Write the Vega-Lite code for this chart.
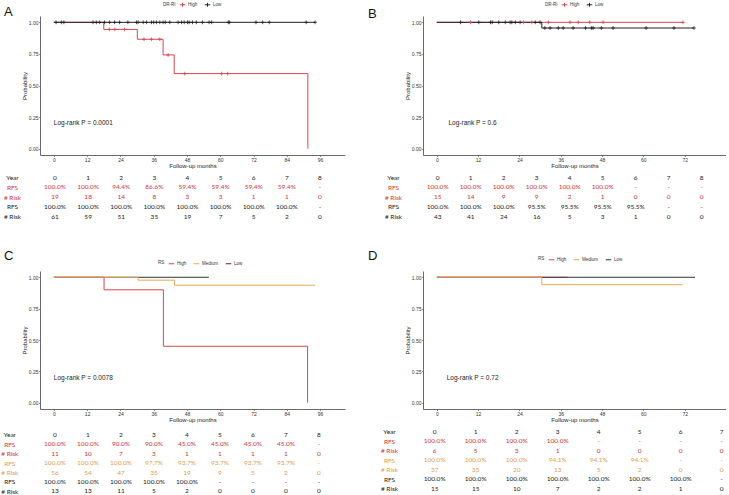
{
  "$schema": "https://vega.github.io/schema/vega-lite/v6.json",
  "padding": {"left": 0, "top": 1, "right": 0, "bottom": 0},
  "background": "white",
  "columns": 2,
  "spacing": {"row": 10, "column": 78},
  "bounds": "flush",
  "resolve": {"scale": {"color": "independent", "x": "independent", "y": "independent"}, "legend": {"color": "independent"}},
  "datasets": {
    "curveA": [
      {"g": "High", "m": 0, "s": 1}, {"g": "High", "m": 18, "s": 0.944}, {"g": "High", "m": 30.1, "s": 0.866}, {"g": "High", "m": 39.4, "s": 0.742}, {"g": "High", "m": 43.4, "s": 0.594}, {"g": "High", "m": 91.6, "s": 0},
      {"g": "Low", "m": 0, "s": 1}, {"g": "Low", "m": 94.2, "s": 1}
    ],
    "censA": [
      {"g": "High", "m": 20, "s": 0.944}, {"g": "High", "m": 22, "s": 0.944}, {"g": "High", "m": 25.5, "s": 0.944},
      {"g": "High", "m": 32.5, "s": 0.866}, {"g": "High", "m": 35.2, "s": 0.866}, {"g": "High", "m": 38.2, "s": 0.866},
      {"g": "High", "m": 41.2, "s": 0.742},
      {"g": "High", "m": 47.2, "s": 0.594}, {"g": "High", "m": 60.5, "s": 0.594}, {"g": "High", "m": 62.7, "s": 0.594},
      {"g": "Low", "m": 0.8, "s": 1}, {"g": "Low", "m": 2.7, "s": 1}, {"g": "Low", "m": 3.6, "s": 1}, {"g": "Low", "m": 14.1, "s": 1}, {"g": "Low", "m": 15.3, "s": 1}, {"g": "Low", "m": 16.5, "s": 1}, {"g": "Low", "m": 18.3, "s": 1}, {"g": "Low", "m": 20.1, "s": 1}, {"g": "Low", "m": 21.9, "s": 1}, {"g": "Low", "m": 23.7, "s": 1}, {"g": "Low", "m": 26.7, "s": 1}, {"g": "Low", "m": 29.8, "s": 1}, {"g": "Low", "m": 30.4, "s": 1}, {"g": "Low", "m": 32.2, "s": 1}, {"g": "Low", "m": 33.4, "s": 1}, {"g": "Low", "m": 35.2, "s": 1}, {"g": "Low", "m": 36, "s": 1}, {"g": "Low", "m": 37, "s": 1}, {"g": "Low", "m": 38.2, "s": 1}, {"g": "Low", "m": 39.4, "s": 1}, {"g": "Low", "m": 40.2, "s": 1}, {"g": "Low", "m": 41.8, "s": 1}, {"g": "Low", "m": 44.8, "s": 1}, {"g": "Low", "m": 46, "s": 1}, {"g": "Low", "m": 47, "s": 1}, {"g": "Low", "m": 48.2, "s": 1}, {"g": "Low", "m": 48.8, "s": 1}, {"g": "Low", "m": 50, "s": 1}, {"g": "Low", "m": 51.4, "s": 1}, {"g": "Low", "m": 53.6, "s": 1}, {"g": "Low", "m": 56, "s": 1}, {"g": "Low", "m": 56.9, "s": 1}, {"g": "Low", "m": 62.9, "s": 1}, {"g": "Low", "m": 63.3, "s": 1}, {"g": "Low", "m": 72.9, "s": 1}, {"g": "Low", "m": 75.3, "s": 1}, {"g": "Low", "m": 77.7, "s": 1}, {"g": "Low", "m": 91, "s": 1}, {"g": "Low", "m": 94.2, "s": 1}
    ],
    "curveB": [
      {"g": "High", "m": 0, "s": 1}, {"g": "High", "m": 71.5, "s": 1},
      {"g": "Low", "m": 0, "s": 1}, {"g": "Low", "m": 30.5, "s": 0.955}, {"g": "Low", "m": 74.7, "s": 0.955}
    ],
    "censB": [
      {"g": "High", "m": 9.8, "s": 1}, {"g": "High", "m": 25.2, "s": 1}, {"g": "High", "m": 27.6, "s": 1}, {"g": "High", "m": 32.4, "s": 1}, {"g": "High", "m": 38.7, "s": 1}, {"g": "High", "m": 41.1, "s": 1}, {"g": "High", "m": 44.4, "s": 1}, {"g": "High", "m": 48.3, "s": 1}, {"g": "High", "m": 71.5, "s": 1},
      {"g": "Low", "m": 6.9, "s": 1}, {"g": "Low", "m": 12.2, "s": 1}, {"g": "Low", "m": 15.6, "s": 1}, {"g": "Low", "m": 16.1, "s": 1}, {"g": "Low", "m": 18, "s": 1}, {"g": "Low", "m": 19.9, "s": 1}, {"g": "Low", "m": 21.3, "s": 1}, {"g": "Low", "m": 21.8, "s": 1}, {"g": "Low", "m": 22.8, "s": 1}, {"g": "Low", "m": 24.2, "s": 1}, {"g": "Low", "m": 28.6, "s": 1}, {"g": "Low", "m": 30, "s": 1},
      {"g": "Low", "m": 31.4, "s": 0.955}, {"g": "Low", "m": 32.9, "s": 0.955}, {"g": "Low", "m": 35.3, "s": 0.955}, {"g": "Low", "m": 36.7, "s": 0.955}, {"g": "Low", "m": 39.6, "s": 0.955}, {"g": "Low", "m": 43.2, "s": 0.955}, {"g": "Low", "m": 44.9, "s": 0.955}, {"g": "Low", "m": 45.4, "s": 0.955}, {"g": "Low", "m": 47.8, "s": 0.955}, {"g": "Low", "m": 51.2, "s": 0.955}, {"g": "Low", "m": 60.8, "s": 0.955}, {"g": "Low", "m": 68.9, "s": 0.955}, {"g": "Low", "m": 74.7, "s": 0.955}
    ],
    "curveC": [
      {"g": "High", "m": 0, "s": 1}, {"g": "High", "m": 18.1, "s": 0.9}, {"g": "High", "m": 39.5, "s": 0.45}, {"g": "High", "m": 91.5, "s": 0},
      {"g": "Low", "m": 0, "s": 1}, {"g": "Low", "m": 55.9, "s": 1},
      {"g": "Medium", "m": 0, "s": 1}, {"g": "Medium", "m": 30.4, "s": 0.977}, {"g": "Medium", "m": 43.5, "s": 0.937}, {"g": "Medium", "m": 94.2, "s": 0.937}
    ],
    "curveD": [
      {"g": "High", "m": 0, "s": 1}, {"g": "High", "m": 38, "s": 1},
      {"g": "Low", "m": 0, "s": 1}, {"g": "Low", "m": 75, "s": 1},
      {"g": "Medium", "m": 0, "s": 1}, {"g": "Medium", "m": 30.5, "s": 0.941}, {"g": "Medium", "m": 71.4, "s": 0.941}
    ],
    "tabA": [
      {"r": 0, "yr": 0, "t": "0", "g": "K"}, {"r": 0, "yr": 1, "t": "1", "g": "K"}, {"r": 0, "yr": 2, "t": "2", "g": "K"}, {"r": 0, "yr": 3, "t": "3", "g": "K"}, {"r": 0, "yr": 4, "t": "4", "g": "K"}, {"r": 0, "yr": 5, "t": "5", "g": "K"}, {"r": 0, "yr": 6, "t": "6", "g": "K"}, {"r": 0, "yr": 7, "t": "7", "g": "K"}, {"r": 0, "yr": 8, "t": "8", "g": "K"},
      {"r": 1, "yr": 0, "t": "100.0%", "g": "H"}, {"r": 1, "yr": 1, "t": "100.0%", "g": "H"}, {"r": 1, "yr": 2, "t": "94.4%", "g": "H"}, {"r": 1, "yr": 3, "t": "86.6%", "g": "H"}, {"r": 1, "yr": 4, "t": "59.4%", "g": "H"}, {"r": 1, "yr": 5, "t": "59.4%", "g": "H"}, {"r": 1, "yr": 6, "t": "59.4%", "g": "H"}, {"r": 1, "yr": 7, "t": "59.4%", "g": "H"}, {"r": 1, "yr": 8, "t": "-", "g": "H"},
      {"r": 2, "yr": 0, "t": "19", "g": "H"}, {"r": 2, "yr": 1, "t": "18", "g": "H"}, {"r": 2, "yr": 2, "t": "14", "g": "H"}, {"r": 2, "yr": 3, "t": "8", "g": "H"}, {"r": 2, "yr": 4, "t": "3", "g": "H"}, {"r": 2, "yr": 5, "t": "3", "g": "H"}, {"r": 2, "yr": 6, "t": "1", "g": "H"}, {"r": 2, "yr": 7, "t": "1", "g": "H"}, {"r": 2, "yr": 8, "t": "0", "g": "H"},
      {"r": 3, "yr": 0, "t": "100.0%", "g": "K"}, {"r": 3, "yr": 1, "t": "100.0%", "g": "K"}, {"r": 3, "yr": 2, "t": "100.0%", "g": "K"}, {"r": 3, "yr": 3, "t": "100.0%", "g": "K"}, {"r": 3, "yr": 4, "t": "100.0%", "g": "K"}, {"r": 3, "yr": 5, "t": "100.0%", "g": "K"}, {"r": 3, "yr": 6, "t": "100.0%", "g": "K"}, {"r": 3, "yr": 7, "t": "100.0%", "g": "K"}, {"r": 3, "yr": 8, "t": "-", "g": "K"},
      {"r": 4, "yr": 0, "t": "61", "g": "K"}, {"r": 4, "yr": 1, "t": "59", "g": "K"}, {"r": 4, "yr": 2, "t": "51", "g": "K"}, {"r": 4, "yr": 3, "t": "35", "g": "K"}, {"r": 4, "yr": 4, "t": "19", "g": "K"}, {"r": 4, "yr": 5, "t": "7", "g": "K"}, {"r": 4, "yr": 6, "t": "5", "g": "K"}, {"r": 4, "yr": 7, "t": "2", "g": "K"}, {"r": 4, "yr": 8, "t": "0", "g": "K"}
    ],
    "tabB": [
      {"r": 0, "yr": 0, "t": "0", "g": "K"}, {"r": 0, "yr": 1, "t": "1", "g": "K"}, {"r": 0, "yr": 2, "t": "2", "g": "K"}, {"r": 0, "yr": 3, "t": "3", "g": "K"}, {"r": 0, "yr": 4, "t": "4", "g": "K"}, {"r": 0, "yr": 5, "t": "5", "g": "K"}, {"r": 0, "yr": 6, "t": "6", "g": "K"}, {"r": 0, "yr": 7, "t": "7", "g": "K"}, {"r": 0, "yr": 8, "t": "8", "g": "K"},
      {"r": 1, "yr": 0, "t": "100.0%", "g": "H"}, {"r": 1, "yr": 1, "t": "100.0%", "g": "H"}, {"r": 1, "yr": 2, "t": "100.0%", "g": "H"}, {"r": 1, "yr": 3, "t": "100.0%", "g": "H"}, {"r": 1, "yr": 4, "t": "100.0%", "g": "H"}, {"r": 1, "yr": 5, "t": "100.0%", "g": "H"}, {"r": 1, "yr": 6, "t": "-", "g": "H"}, {"r": 1, "yr": 7, "t": "-", "g": "H"}, {"r": 1, "yr": 8, "t": "-", "g": "H"},
      {"r": 2, "yr": 0, "t": "15", "g": "H"}, {"r": 2, "yr": 1, "t": "14", "g": "H"}, {"r": 2, "yr": 2, "t": "9", "g": "H"}, {"r": 2, "yr": 3, "t": "9", "g": "H"}, {"r": 2, "yr": 4, "t": "2", "g": "H"}, {"r": 2, "yr": 5, "t": "1", "g": "H"}, {"r": 2, "yr": 6, "t": "0", "g": "H"}, {"r": 2, "yr": 7, "t": "0", "g": "H"}, {"r": 2, "yr": 8, "t": "0", "g": "H"},
      {"r": 3, "yr": 0, "t": "100.0%", "g": "K"}, {"r": 3, "yr": 1, "t": "100.0%", "g": "K"}, {"r": 3, "yr": 2, "t": "100.0%", "g": "K"}, {"r": 3, "yr": 3, "t": "95.5%", "g": "K"}, {"r": 3, "yr": 4, "t": "95.5%", "g": "K"}, {"r": 3, "yr": 5, "t": "95.5%", "g": "K"}, {"r": 3, "yr": 6, "t": "95.5%", "g": "K"}, {"r": 3, "yr": 7, "t": "-", "g": "K"}, {"r": 3, "yr": 8, "t": "-", "g": "K"},
      {"r": 4, "yr": 0, "t": "43", "g": "K"}, {"r": 4, "yr": 1, "t": "41", "g": "K"}, {"r": 4, "yr": 2, "t": "24", "g": "K"}, {"r": 4, "yr": 3, "t": "16", "g": "K"}, {"r": 4, "yr": 4, "t": "5", "g": "K"}, {"r": 4, "yr": 5, "t": "3", "g": "K"}, {"r": 4, "yr": 6, "t": "1", "g": "K"}, {"r": 4, "yr": 7, "t": "0", "g": "K"}, {"r": 4, "yr": 8, "t": "0", "g": "K"}
    ],
    "tabC": [
      {"r": 0, "yr": 0, "t": "0", "g": "K"}, {"r": 0, "yr": 1, "t": "1", "g": "K"}, {"r": 0, "yr": 2, "t": "2", "g": "K"}, {"r": 0, "yr": 3, "t": "3", "g": "K"}, {"r": 0, "yr": 4, "t": "4", "g": "K"}, {"r": 0, "yr": 5, "t": "5", "g": "K"}, {"r": 0, "yr": 6, "t": "6", "g": "K"}, {"r": 0, "yr": 7, "t": "7", "g": "K"}, {"r": 0, "yr": 8, "t": "8", "g": "K"},
      {"r": 1, "yr": 0, "t": "100.0%", "g": "H"}, {"r": 1, "yr": 1, "t": "100.0%", "g": "H"}, {"r": 1, "yr": 2, "t": "90.0%", "g": "H"}, {"r": 1, "yr": 3, "t": "90.0%", "g": "H"}, {"r": 1, "yr": 4, "t": "45.0%", "g": "H"}, {"r": 1, "yr": 5, "t": "45.0%", "g": "H"}, {"r": 1, "yr": 6, "t": "45.0%", "g": "H"}, {"r": 1, "yr": 7, "t": "45.0%", "g": "H"}, {"r": 1, "yr": 8, "t": "-", "g": "H"},
      {"r": 2, "yr": 0, "t": "11", "g": "H"}, {"r": 2, "yr": 1, "t": "10", "g": "H"}, {"r": 2, "yr": 2, "t": "7", "g": "H"}, {"r": 2, "yr": 3, "t": "3", "g": "H"}, {"r": 2, "yr": 4, "t": "1", "g": "H"}, {"r": 2, "yr": 5, "t": "1", "g": "H"}, {"r": 2, "yr": 6, "t": "1", "g": "H"}, {"r": 2, "yr": 7, "t": "1", "g": "H"}, {"r": 2, "yr": 8, "t": "0", "g": "H"},
      {"r": 3, "yr": 0, "t": "100.0%", "g": "M"}, {"r": 3, "yr": 1, "t": "100.0%", "g": "M"}, {"r": 3, "yr": 2, "t": "100.0%", "g": "M"}, {"r": 3, "yr": 3, "t": "97.7%", "g": "M"}, {"r": 3, "yr": 4, "t": "93.7%", "g": "M"}, {"r": 3, "yr": 5, "t": "93.7%", "g": "M"}, {"r": 3, "yr": 6, "t": "93.7%", "g": "M"}, {"r": 3, "yr": 7, "t": "93.7%", "g": "M"}, {"r": 3, "yr": 8, "t": "-", "g": "M"},
      {"r": 4, "yr": 0, "t": "56", "g": "M"}, {"r": 4, "yr": 1, "t": "54", "g": "M"}, {"r": 4, "yr": 2, "t": "47", "g": "M"}, {"r": 4, "yr": 3, "t": "35", "g": "M"}, {"r": 4, "yr": 4, "t": "19", "g": "M"}, {"r": 4, "yr": 5, "t": "9", "g": "M"}, {"r": 4, "yr": 6, "t": "5", "g": "M"}, {"r": 4, "yr": 7, "t": "2", "g": "M"}, {"r": 4, "yr": 8, "t": "0", "g": "M"},
      {"r": 5, "yr": 0, "t": "100.0%", "g": "K"}, {"r": 5, "yr": 1, "t": "100.0%", "g": "K"}, {"r": 5, "yr": 2, "t": "100.0%", "g": "K"}, {"r": 5, "yr": 3, "t": "100.0%", "g": "K"}, {"r": 5, "yr": 4, "t": "100.0%", "g": "K"}, {"r": 5, "yr": 5, "t": "-", "g": "K"}, {"r": 5, "yr": 6, "t": "-", "g": "K"}, {"r": 5, "yr": 7, "t": "-", "g": "K"}, {"r": 5, "yr": 8, "t": "-", "g": "K"},
      {"r": 6, "yr": 0, "t": "13", "g": "K"}, {"r": 6, "yr": 1, "t": "13", "g": "K"}, {"r": 6, "yr": 2, "t": "11", "g": "K"}, {"r": 6, "yr": 3, "t": "5", "g": "K"}, {"r": 6, "yr": 4, "t": "2", "g": "K"}, {"r": 6, "yr": 5, "t": "0", "g": "K"}, {"r": 6, "yr": 6, "t": "0", "g": "K"}, {"r": 6, "yr": 7, "t": "0", "g": "K"}, {"r": 6, "yr": 8, "t": "0", "g": "K"}
    ],
    "tabD": [
      {"r": 0, "yr": 0, "t": "0", "g": "K"}, {"r": 0, "yr": 1, "t": "1", "g": "K"}, {"r": 0, "yr": 2, "t": "2", "g": "K"}, {"r": 0, "yr": 3, "t": "3", "g": "K"}, {"r": 0, "yr": 4, "t": "4", "g": "K"}, {"r": 0, "yr": 5, "t": "5", "g": "K"}, {"r": 0, "yr": 6, "t": "6", "g": "K"}, {"r": 0, "yr": 7, "t": "7", "g": "K"},
      {"r": 1, "yr": 0, "t": "100.0%", "g": "H"}, {"r": 1, "yr": 1, "t": "100.0%", "g": "H"}, {"r": 1, "yr": 2, "t": "100.0%", "g": "H"}, {"r": 1, "yr": 3, "t": "100.0%", "g": "H"}, {"r": 1, "yr": 4, "t": "-", "g": "H"}, {"r": 1, "yr": 5, "t": "-", "g": "H"}, {"r": 1, "yr": 6, "t": "-", "g": "H"}, {"r": 1, "yr": 7, "t": "-", "g": "H"},
      {"r": 2, "yr": 0, "t": "6", "g": "H"}, {"r": 2, "yr": 1, "t": "5", "g": "H"}, {"r": 2, "yr": 2, "t": "3", "g": "H"}, {"r": 2, "yr": 3, "t": "1", "g": "H"}, {"r": 2, "yr": 4, "t": "0", "g": "H"}, {"r": 2, "yr": 5, "t": "0", "g": "H"}, {"r": 2, "yr": 6, "t": "0", "g": "H"}, {"r": 2, "yr": 7, "t": "0", "g": "H"},
      {"r": 3, "yr": 0, "t": "100.0%", "g": "M"}, {"r": 3, "yr": 1, "t": "100.0%", "g": "M"}, {"r": 3, "yr": 2, "t": "100.0%", "g": "M"}, {"r": 3, "yr": 3, "t": "94.1%", "g": "M"}, {"r": 3, "yr": 4, "t": "94.1%", "g": "M"}, {"r": 3, "yr": 5, "t": "94.1%", "g": "M"}, {"r": 3, "yr": 6, "t": "-", "g": "M"}, {"r": 3, "yr": 7, "t": "-", "g": "M"},
      {"r": 4, "yr": 0, "t": "37", "g": "M"}, {"r": 4, "yr": 1, "t": "35", "g": "M"}, {"r": 4, "yr": 2, "t": "20", "g": "M"}, {"r": 4, "yr": 3, "t": "13", "g": "M"}, {"r": 4, "yr": 4, "t": "5", "g": "M"}, {"r": 4, "yr": 5, "t": "2", "g": "M"}, {"r": 4, "yr": 6, "t": "0", "g": "M"}, {"r": 4, "yr": 7, "t": "0", "g": "M"},
      {"r": 5, "yr": 0, "t": "100.0%", "g": "K"}, {"r": 5, "yr": 1, "t": "100.0%", "g": "K"}, {"r": 5, "yr": 2, "t": "100.0%", "g": "K"}, {"r": 5, "yr": 3, "t": "100.0%", "g": "K"}, {"r": 5, "yr": 4, "t": "100.0%", "g": "K"}, {"r": 5, "yr": 5, "t": "100.0%", "g": "K"}, {"r": 5, "yr": 6, "t": "100.0%", "g": "K"}, {"r": 5, "yr": 7, "t": "-", "g": "K"},
      {"r": 6, "yr": 0, "t": "15", "g": "K"}, {"r": 6, "yr": 1, "t": "15", "g": "K"}, {"r": 6, "yr": 2, "t": "10", "g": "K"}, {"r": 6, "yr": 3, "t": "7", "g": "K"}, {"r": 6, "yr": 4, "t": "2", "g": "K"}, {"r": 6, "yr": 5, "t": "2", "g": "K"}, {"r": 6, "yr": 6, "t": "1", "g": "K"}, {"r": 6, "yr": 7, "t": "0", "g": "K"}
    ]
  },
  "concat": [
    {
      "width": 305, "height": 139,
      "title": {"text": "A", "anchor": "start", "frame": "group", "dx": -36, "offset": -18},
      "layer": [
        {
          "data": {"name": "curveA"},
          "mark": {"type": "line", "interpolate": "step-after", "strokeWidth": 1},
          "encoding": {
            "x": {"field": "m", "type": "quantitative", "scale": {"domain": [-5, 105], "nice": false, "zero": false}, "axis": {"values": [0, 12, 24, 36, 48, 60, 72, 84, 96], "tickCount": 20, "format": "d", "title": "Follow-up months", "labelOverlap": false, "labelBound": false}},
            "y": {"field": "s", "type": "quantitative", "scale": {"domain": [-0.05, 1.05], "nice": false, "zero": false}, "axis": {"values": [0, 0.25, 0.5, 0.75, 1], "tickCount": 20, "format": ".2f", "title": "Probability", "labelOverlap": false, "labelBound": false}},
            "color": {"field": "g", "type": "nominal", "scale": {"domain": ["High", "Low"], "range": ["#D64550", "#222222"]},
              "legend": {"orient": "none", "legendX": 123, "legendY": -15, "direction": "horizontal", "title": "DR-RI", "symbolType": "M-1,0L1,0M0,-0.7L0,0.7"}}
          }
        },
        {
          "data": {"name": "censA"},
          "mark": {"type": "point", "shape": "M-1,0L1,0M0,-1L0,1", "filled": false, "size": 14, "strokeWidth": 0.8, "opacity": 1},
          "encoding": {
            "x": {"field": "m", "type": "quantitative"},
            "y": {"field": "s", "type": "quantitative"},
            "color": {"field": "g", "type": "nominal"}
          }
        },
        {
          "data": {"values": [{"x": 0, "y": 0.2, "t": "Log-rank P = 0.0001"}]},
          "mark": {"type": "text", "align": "left", "baseline": "middle", "fontSize": 6.5, "font": "Liberation Sans", "color": "#222"},
          "encoding": {"x": {"field": "x", "type": "quantitative"}, "y": {"field": "y", "type": "quantitative"}, "text": {"field": "t"}}
        }
      ]
    },
    {
      "width": 303, "height": 139,
      "title": {"text": "B", "anchor": "start", "frame": "group", "dx": -55, "offset": -20},
      "layer": [
        {
          "data": {"name": "curveB"},
          "mark": {"type": "line", "interpolate": "step-after", "strokeWidth": 1},
          "encoding": {
            "x": {"field": "m", "type": "quantitative", "scale": {"domain": [-4, 84], "nice": false, "zero": false}, "axis": {"values": [0, 12, 24, 36, 48, 60, 72], "tickCount": 20, "format": "d", "title": "Follow-up months", "labelOverlap": false, "labelBound": false}},
            "y": {"field": "s", "type": "quantitative", "scale": {"domain": [-0.05, 1.05], "nice": false, "zero": false}, "axis": {"values": [0, 0.25, 0.5, 0.75, 1], "tickCount": 20, "format": ".2f", "title": "Probability", "labelOverlap": false, "labelBound": false}},
            "color": {"field": "g", "type": "nominal", "scale": {"domain": ["High", "Low"], "range": ["#D64550", "#222222"]},
              "legend": {"orient": "none", "legendX": 122, "legendY": -15, "direction": "horizontal", "title": "DR-RI", "symbolType": "M-1,0L1,0M0,-0.7L0,0.7"}}
          }
        },
        {
          "data": {"name": "censB"},
          "mark": {"type": "point", "shape": "M-1,0L1,0M0,-1L0,1", "filled": false, "size": 14, "strokeWidth": 0.8, "opacity": 1},
          "encoding": {
            "x": {"field": "m", "type": "quantitative"},
            "y": {"field": "s", "type": "quantitative"},
            "color": {"field": "g", "type": "nominal"}
          }
        },
        {
          "data": {"values": [{"x": 3.4, "y": 0.2, "t": "Log-rank P = 0.6"}]},
          "mark": {"type": "text", "align": "left", "baseline": "middle", "fontSize": 6.5, "font": "Liberation Sans", "color": "#222"},
          "encoding": {"x": {"field": "x", "type": "quantitative"}, "y": {"field": "y", "type": "quantitative"}, "text": {"field": "t"}}
        }
      ]
    },
    {
      "width": 305, "height": 96,
      "data": {"name": "tabA"},
      "mark": {"type": "text", "font": "Lato", "fontSize": 6.5, "baseline": "middle", "align": "center"},
      "encoding": {
        "x": {"field": "yr", "type": "quantitative", "scale": {"domain": [-0.453, 8.755], "nice": false, "zero": false}, "axis": null},
        "y": {"field": "r", "type": "quantitative", "scale": {"domain": [-1.303, 8.544], "nice": false, "zero": false, "reverse": true},
          "axis": {"values": [0, 1, 2, 3, 4], "tickCount": 20, "labelExpr": "['Year','RFS','# Risk','RFS','# Risk'][datum.value]", "domain": false, "ticks": false, "tickSize": 0, "labelAlign": "center", "labelPadding": 28, "labelFont": "Lato", "labelFontSize": 6.5, "title": null, "labelOverlap": false,
            "labelColor": {"condition": {"test": "datum.value == 1 || datum.value == 2", "value": "#D0343A"}, "value": "#222222"}}},
        "text": {"field": "t"},
        "color": {"field": "g", "type": "nominal", "scale": {"domain": ["K", "H", "M"], "range": ["#222222", "#D0343A", "#E39B52"]}, "legend": null}
      }
    },
    {
      "width": 303, "height": 96,
      "data": {"name": "tabB"},
      "mark": {"type": "text", "font": "Lato", "fontSize": 6.5, "baseline": "middle", "align": "center"},
      "encoding": {
        "x": {"field": "yr", "type": "quantitative", "scale": {"domain": [-0.445, 8.736], "nice": false, "zero": false}, "axis": null},
        "y": {"field": "r", "type": "quantitative", "scale": {"domain": [-1.303, 8.544], "nice": false, "zero": false, "reverse": true},
          "axis": {"values": [0, 1, 2, 3, 4], "tickCount": 20, "labelExpr": "['Year','RFS','# Risk','RFS','# Risk'][datum.value]", "domain": false, "ticks": false, "tickSize": 0, "labelAlign": "center", "labelPadding": 30, "labelFont": "Lato", "labelFontSize": 6.5, "title": null, "labelOverlap": false,
            "labelColor": {"condition": {"test": "datum.value == 1 || datum.value == 2", "value": "#D0343A"}, "value": "#222222"}}},
        "text": {"field": "t"},
        "color": {"field": "g", "type": "nominal", "scale": {"domain": ["K", "H", "M"], "range": ["#222222", "#D0343A", "#E39B52"]}, "legend": null}
      }
    },
    {
      "width": 305, "height": 138,
      "title": {"text": "C", "anchor": "start", "frame": "group", "dx": -36, "offset": -3},
      "layer": [
        {
          "data": {"name": "curveC"},
          "mark": {"type": "line", "interpolate": "step-after", "strokeWidth": 1},
          "encoding": {
            "x": {"field": "m", "type": "quantitative", "scale": {"domain": [-5, 105], "nice": false, "zero": false}, "axis": {"values": [0, 12, 24, 36, 48, 60, 72, 84, 96], "tickCount": 20, "format": "d", "title": "Follow-up months", "labelOverlap": false, "labelBound": false}},
            "y": {"field": "s", "type": "quantitative", "scale": {"domain": [-0.05, 1.05], "nice": false, "zero": false}, "axis": {"values": [0, 0.25, 0.5, 0.75, 1], "tickCount": 20, "format": ".2f", "title": "Probability", "labelOverlap": false, "labelBound": false}},
            "color": {"field": "g", "type": "nominal", "scale": {"domain": ["High", "Medium", "Low"], "range": ["#D64550", "#E8A657", "#333333"]},
              "legend": {"orient": "none", "legendX": 118, "legendY": -11, "direction": "horizontal", "title": "RS", "symbolType": "stroke"}}
          }
        },
        {
          "data": {"values": [{"x": 0, "y": 0.2, "t": "Log-rank P = 0.0078"}]},
          "mark": {"type": "text", "align": "left", "baseline": "middle", "fontSize": 6.5, "font": "Liberation Sans", "color": "#222"},
          "encoding": {"x": {"field": "x", "type": "quantitative"}, "y": {"field": "y", "type": "quantitative"}, "text": {"field": "t"}}
        }
      ]
    },
    {
      "width": 303, "height": 138,
      "title": {"text": "D", "anchor": "start", "frame": "group", "dx": -55, "offset": -7},
      "layer": [
        {
          "data": {"name": "curveD"},
          "mark": {"type": "line", "interpolate": "step-after", "strokeWidth": 1},
          "encoding": {
            "x": {"field": "m", "type": "quantitative", "scale": {"domain": [-4, 84], "nice": false, "zero": false}, "axis": {"values": [0, 12, 24, 36, 48, 60, 72], "tickCount": 20, "format": "d", "title": "Follow-up months", "labelOverlap": false, "labelBound": false}},
            "y": {"field": "s", "type": "quantitative", "scale": {"domain": [-0.05, 1.05], "nice": false, "zero": false}, "axis": {"values": [0, 0.25, 0.5, 0.75, 1], "tickCount": 20, "format": ".2f", "title": "Probability", "labelOverlap": false, "labelBound": false}},
            "color": {"field": "g", "type": "nominal", "scale": {"domain": ["High", "Medium", "Low"], "range": ["#D64550", "#E8A657", "#333333"]},
              "legend": {"orient": "none", "legendX": 115, "legendY": -15, "direction": "horizontal", "title": "RS", "symbolType": "stroke"}}
          }
        },
        {
          "data": {"values": [{"x": 2.9, "y": 0.2, "t": "Log-rank P = 0.72"}]},
          "mark": {"type": "text", "align": "left", "baseline": "middle", "fontSize": 6.5, "font": "Liberation Sans", "color": "#222"},
          "encoding": {"x": {"field": "x", "type": "quantitative"}, "y": {"field": "y", "type": "quantitative"}, "text": {"field": "t"}}
        }
      ]
    },
    {
      "width": 305, "height": 76,
      "data": {"name": "tabC"},
      "mark": {"type": "text", "font": "Lato", "fontSize": 6.5, "baseline": "middle", "align": "center"},
      "encoding": {
        "x": {"field": "yr", "type": "quantitative", "scale": {"domain": [-0.4545, 8.788], "nice": false, "zero": false}, "axis": null},
        "y": {"field": "r", "type": "quantitative", "scale": {"domain": [-1.702, 6.383], "nice": false, "zero": false, "reverse": true},
          "axis": {"values": [0, 1, 2, 3, 4, 5, 6], "tickCount": 20, "labelExpr": "['Year','RFS','# Risk','RFS','# Risk','RFS','# Risk'][datum.value]", "domain": false, "ticks": false, "tickSize": 0, "labelAlign": "center", "labelPadding": 30.7, "labelFont": "Lato", "labelFontSize": 6.5, "title": null, "labelOverlap": false,
            "labelColor": {"condition": [{"test": "datum.value == 1 || datum.value == 2", "value": "#D0343A"}, {"test": "datum.value == 3 || datum.value == 4", "value": "#E39B52"}], "value": "#222222"}}},
        "text": {"field": "t"},
        "color": {"field": "g", "type": "nominal", "scale": {"domain": ["K", "H", "M"], "range": ["#222222", "#D0343A", "#E39B52"]}, "legend": null}
      }
    },
    {
      "width": 303, "height": 76,
      "data": {"name": "tabD"},
      "mark": {"type": "text", "font": "Lato", "fontSize": 6.5, "baseline": "middle", "align": "center"},
      "encoding": {
        "x": {"field": "yr", "type": "quantitative", "scale": {"domain": [-0.285, 7.105], "nice": false, "zero": false}, "axis": null},
        "y": {"field": "r", "type": "quantitative", "scale": {"domain": [-1.368, 6.632], "nice": false, "zero": false, "reverse": true},
          "axis": {"values": [0, 1, 2, 3, 4, 5, 6], "tickCount": 20, "labelExpr": "['Year','RFS','# Risk','RFS','# Risk','RFS','# Risk'][datum.value]", "domain": false, "ticks": false, "tickSize": 0, "labelAlign": "center", "labelPadding": 34, "labelFont": "Lato", "labelFontSize": 6.5, "title": null, "labelOverlap": false,
            "labelColor": {"condition": [{"test": "datum.value == 1 || datum.value == 2", "value": "#D0343A"}, {"test": "datum.value == 3 || datum.value == 4", "value": "#E39B52"}], "value": "#222222"}}},
        "text": {"field": "t"},
        "color": {"field": "g", "type": "nominal", "scale": {"domain": ["K", "H", "M"], "range": ["#222222", "#D0343A", "#E39B52"]}, "legend": null}
      }
    }
  ],
  "config": {
    "view": {"stroke": null},
    "font": "Liberation Sans",
    "axis": {"grid": false, "labelOverlap": false, "labelFont": "Liberation Sans", "labelFontSize": 5, "labelColor": "#333333", "titleFont": "Liberation Sans", "titleFontSize": 6, "titleFontWeight": "normal", "titleColor": "#222222", "domainColor": "#444444", "domainWidth": 0.8, "tickColor": "#444444", "tickSize": 1.5, "tickWidth": 0.6, "labelPadding": 0.5, "titlePadding": 0.5},
    "legend": {"titleFontSize": 4.5, "labelFontSize": 4.5, "titleFont": "Liberation Sans", "labelFont": "Liberation Sans", "titleFontWeight": "normal", "titleColor": "#333333", "labelColor": "#333333", "titleOrient": "left", "titlePadding": 3, "symbolSize": 30, "symbolStrokeWidth": 1, "symbolFillColor": "transparent", "columnPadding": 4, "labelOffset": 2, "padding": 0},
    "title": {"fontSize": 13, "font": "Liberation Sans", "fontWeight": "normal", "color": "#111111", "baseline": "alphabetic"}
  }
}
